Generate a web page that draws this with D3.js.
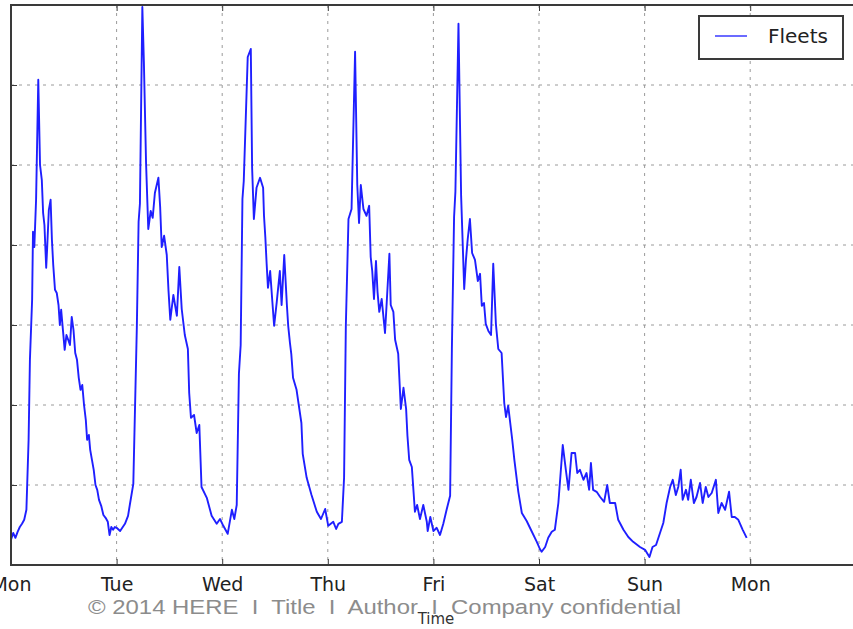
<!DOCTYPE html>
<html>
<head>
<meta charset="utf-8">
<script src="https://cdn.jsdelivr.net/npm/d3@7/dist/d3.min.js"></script>
<style>
  html, body { margin: 0; padding: 0; background: #ffffff; }
  svg { display: block; }
</style>
</head>
<body>
<svg id="chart" width="853" height="629"></svg>
<script>
// ---------------- DATA ----------------
const dayLabels = ["Mon", "Tue", "Wed", "Thu", "Fri", "Sat", "Sun", "Mon"];
const dayTicks = [0, 24, 48, 72, 96, 120, 144, 168];
const yTicks = [0, 200, 400, 600, 800, 1000, 1200, 1400];
const seriesName = "Fleets";
const xLabel = "Time";
const footer = "\u00A9 2014 HERE  I  Title  I  Author  I  Company confidential";

// hours since Monday 00:00
const hours = [
  0.0, 0.5, 1.0, 1.5, 2.0, 2.5, 3.0, 3.5, 4.0, 4.3, 4.8, 5.0, 5.3, 5.7, 6.2, 6.6, 7.0, 7.3, 7.6, 8.0,
  8.2, 8.6, 9.0, 9.3, 9.6, 10.0, 10.4, 10.8, 11.1, 11.4, 11.8, 12.2, 12.6, 13.0, 13.4, 13.8, 14.2, 14.6, 15.0, 15.4,
  15.8, 16.2, 16.6, 17.0, 17.3, 17.7, 18.0, 18.4, 18.8, 19.2, 19.6, 20.0, 20.5, 21.0, 21.5, 22.0, 22.4, 22.8, 23.2, 23.6,
  24.0, 24.8, 25.9, 26.6, 27.0, 27.8, 28.6, 29.0, 29.3, 29.85, 30.2, 30.7, 31.2, 31.75, 32.2, 32.7, 33.5, 33.9, 34.25, 34.8,
  35.4, 35.8, 36.2, 36.9, 37.7, 38.25, 38.8, 39.5, 40.2, 40.5, 40.9, 41.6, 42.2, 42.8, 43.3, 44.5, 45.6, 46.75, 47.5,
  48.25, 49.25, 50.2, 50.75, 51.3, 51.8, 52.2, 52.6, 52.9, 53.8, 54.5, 54.8, 55.2, 55.8, 56.6, 57.3, 57.5, 57.8, 58.1, 58.4,
  58.9, 59.4, 59.8, 60.4, 61.1, 61.5, 62.1, 62.7, 63.0, 63.4, 63.7, 64.1, 64.9, 66.0, 66.3, 67.2, 68.3, 69.5, 70.45, 71.4, 72.1,
  73.25, 73.9, 74.4, 75.2, 75.7, 76.1, 76.7, 77.4, 78.2, 78.7, 79.1, 79.5, 80.1, 80.8, 81.4, 81.75, 82.1, 82.5, 82.95, 83.3,
  83.7, 84.25, 85.0, 85.4, 86.0, 86.3, 86.9, 87.3, 88.0, 88.6, 89.2, 89.8, 90.1, 90.5, 91.1, 91.8, 92.3, 92.95, 93.7, 94.5, 94.7, 95.3,
  96.0, 96.75, 97.5, 98.25, 99.0, 99.8, 100.2, 100.7, 101.0, 101.7, 102.3, 103.0, 103.4, 103.8, 104.3, 104.8, 105.45, 106.1, 106.6, 107.0,
  107.5, 107.9, 108.5, 109.1, 109.6, 110.2, 110.75, 111.5, 112.1, 112.5, 113.0, 113.9, 114.4, 115.3, 116.1, 117.2, 118.3, 119.5, 120.2,
  120.6, 121.4, 122.1, 122.9, 123.6, 124.4, 125.4, 126.1, 126.7, 127.4, 128.2, 128.7, 129.3, 130.1, 130.8, 131.4, 131.8, 132.3, 133.1, 133.9,
  134.8, 135.5, 136.1, 137.3, 138.0, 139.2, 140.3, 141.4, 142.95, 144.1,
  145.1, 145.8, 146.6, 147.5, 148.25, 149.0, 149.8, 150.4, 151.1, 151.65, 152.2, 152.65, 153.4, 153.9, 154.5, 155.2, 155.8, 156.6, 157.2, 157.9,
  158.5, 159.25, 160.2, 160.75, 161.5, 162.3, 163.2, 163.8, 164.5, 165.3, 166.3, 167.2
];

const fleets = [
  63, 80, 68, 83, 95, 103, 113, 138, 313, 513, 663, 833, 795, 913, 1213, 1000, 963, 880, 850, 743,
  788, 888, 913, 813, 750, 688, 680, 650, 600, 638, 588, 538, 575, 563, 550, 620, 588, 530, 513, 468,
  438, 450, 400, 363, 313, 325, 288, 263, 238, 200, 188, 163, 148, 125, 118, 108, 75, 95, 88, 95,
  93, 85, 103, 123, 150, 203, 595, 858, 903, 1395, 1258, 1003, 840, 885, 868, 930, 968, 895, 795, 823,
  775, 685, 613, 675, 623, 745, 640, 575, 540, 430, 368, 375, 330, 350, 195, 168, 123, 103, 115,
  98, 78, 138, 115, 150, 478, 550, 915, 960, 1270, 1290, 993, 865, 943, 968, 943, 873, 820, 753, 693,
  735, 658, 598, 658, 735, 650, 775, 650, 598, 555, 528, 468, 438, 355, 278, 218, 175, 133, 115, 140, 98,
  108, 90, 103, 108, 218, 598, 865, 890, 1283, 950, 855, 950, 890, 873, 898, 770, 735, 665, 760, 683,
  633, 665, 580, 658, 778, 650, 633, 563, 528, 390, 443, 390, 323, 263, 245, 133, 150, 115, 150, 108, 85, 120,
  85, 93, 75, 103, 138, 173, 540, 870, 933, 1353, 923, 690, 763, 815, 865, 780, 763, 710, 728, 648,
  655, 603, 585, 575, 753, 603, 540, 530, 405, 370, 398, 315, 263, 183, 130, 110, 85, 58, 40,
  33, 45, 68, 83, 88, 155, 300, 238, 188, 280, 280, 230, 238, 213, 230, 188, 255, 188, 183, 170,
  158, 200, 155, 155, 113, 88, 70, 58, 45, 38,
  20, 45, 50, 80, 105, 155, 195, 213, 175, 195, 238, 163, 188, 163, 213, 155, 170, 205, 155, 195,
  170, 180, 213, 130, 155, 138, 183, 120, 120, 113, 88, 68
];

(function () {
  // ---------------- LAYOUT ----------------
  const svg = d3.select("#chart");
  const mLeft = 11, mTop = 5, mBottom = 565;
  const mRight = mLeft + 8 * 105.6;   // axis extends past the visible window

  const x = d3.scaleLinear().domain([0, 192]).range([mLeft, mRight]);
  const y = d3.scaleLinear().domain([0, 1400]).range([mBottom, mTop]);

  const data = hours.map((h, i) => ({ h: h, v: fleets[i] }));

  // grid
  const grid = svg.append("g").attr("class", "grid");
  grid.selectAll("line.hg").data(yTicks.slice(1, -1)).enter().append("line")
    .attr("x1", mLeft).attr("x2", mRight)
    .attr("y1", d => y(d)).attr("y2", d => y(d))
    .attr("stroke", "#9a9a9a").attr("stroke-width", 1).attr("stroke-dasharray", "3,5");
  grid.selectAll("line.vg").data(dayTicks.slice(1)).enter().append("line")
    .attr("x1", d => x(d)).attr("x2", d => x(d))
    .attr("y1", mTop).attr("y2", mBottom)
    .attr("stroke", "#9a9a9a").attr("stroke-width", 1).attr("stroke-dasharray", "3,5");

  // series line
  const line = d3.line().x(d => x(d.h)).y(d => y(d.v));
  svg.append("path").datum(data)
    .attr("d", line)
    .attr("fill", "none")
    .attr("stroke", "#1f1fff")
    .attr("stroke-width", 1.9)
    .attr("stroke-linejoin", "round");

  // axes (inward ticks, matplotlib classic)
  const frameColor = "#3a3a3a";
  const xAxisB = d3.axisBottom(x).tickValues(dayTicks).tickSize(-6).tickPadding(13)
    .tickFormat((d, i) => dayLabels[i]);
  const gxb = svg.append("g").attr("transform", `translate(0,${mBottom})`).call(xAxisB);
  gxb.select(".domain").remove();
  gxb.selectAll(".tick line").attr("stroke", frameColor).attr("stroke-width", 1);
  gxb.selectAll(".tick text").attr("fill", "#222").attr("font-family", "DejaVu Sans")
    .attr("font-size", 19);

  const xAxisT = d3.axisTop(x).tickValues(dayTicks).tickSize(-6).tickFormat("");
  const gxt = svg.append("g").attr("transform", `translate(0,${mTop})`).call(xAxisT);
  gxt.select(".domain").remove();
  gxt.selectAll(".tick line").attr("stroke", frameColor);

  const yAxisL = d3.axisLeft(y).tickValues(yTicks).tickSize(-6).tickFormat("");
  const gyl = svg.append("g").attr("transform", `translate(${mLeft},0)`).call(yAxisL);
  gyl.select(".domain").remove();
  gyl.selectAll(".tick line").attr("stroke", frameColor);

  // frame
  svg.append("rect")
    .attr("x", mLeft).attr("y", mTop)
    .attr("width", mRight - mLeft).attr("height", mBottom - mTop)
    .attr("fill", "none").attr("stroke", frameColor).attr("stroke-width", 2);

  // x label
  svg.append("text")
    .attr("x", 436).attr("y", 624)
    .attr("text-anchor", "middle")
    .attr("font-family", "DejaVu Sans").attr("font-size", 15)
    .attr("fill", "#333")
    .text(xLabel);

  // footer
  svg.append("text")
    .attr("x", 88).attr("y", 614)
    .attr("text-anchor", "start")
    .style("white-space", "pre")
    .attr("textLength", 593)
    .attr("lengthAdjust", "spacingAndGlyphs")
    .attr("font-family", "Liberation Sans, Arial, sans-serif").attr("font-size", 20.5)
    .attr("fill", "#8c8c8c")
    .text(footer);

  // legend
  const lg = svg.append("g");
  lg.append("rect")
    .attr("x", 699).attr("y", 16).attr("width", 144).attr("height", 43)
    .attr("fill", "#ffffff").attr("stroke", frameColor).attr("stroke-width", 2);
  lg.append("line")
    .attr("x1", 715).attr("x2", 747).attr("y1", 36).attr("y2", 36)
    .attr("stroke", "#6b6bff").attr("stroke-width", 2);
  lg.append("text")
    .attr("x", 768).attr("y", 43)
    .attr("font-family", "DejaVu Sans").attr("font-size", 20)
    .attr("fill", "#222")
    .text(seriesName);
})();
</script>
</body>
</html>
